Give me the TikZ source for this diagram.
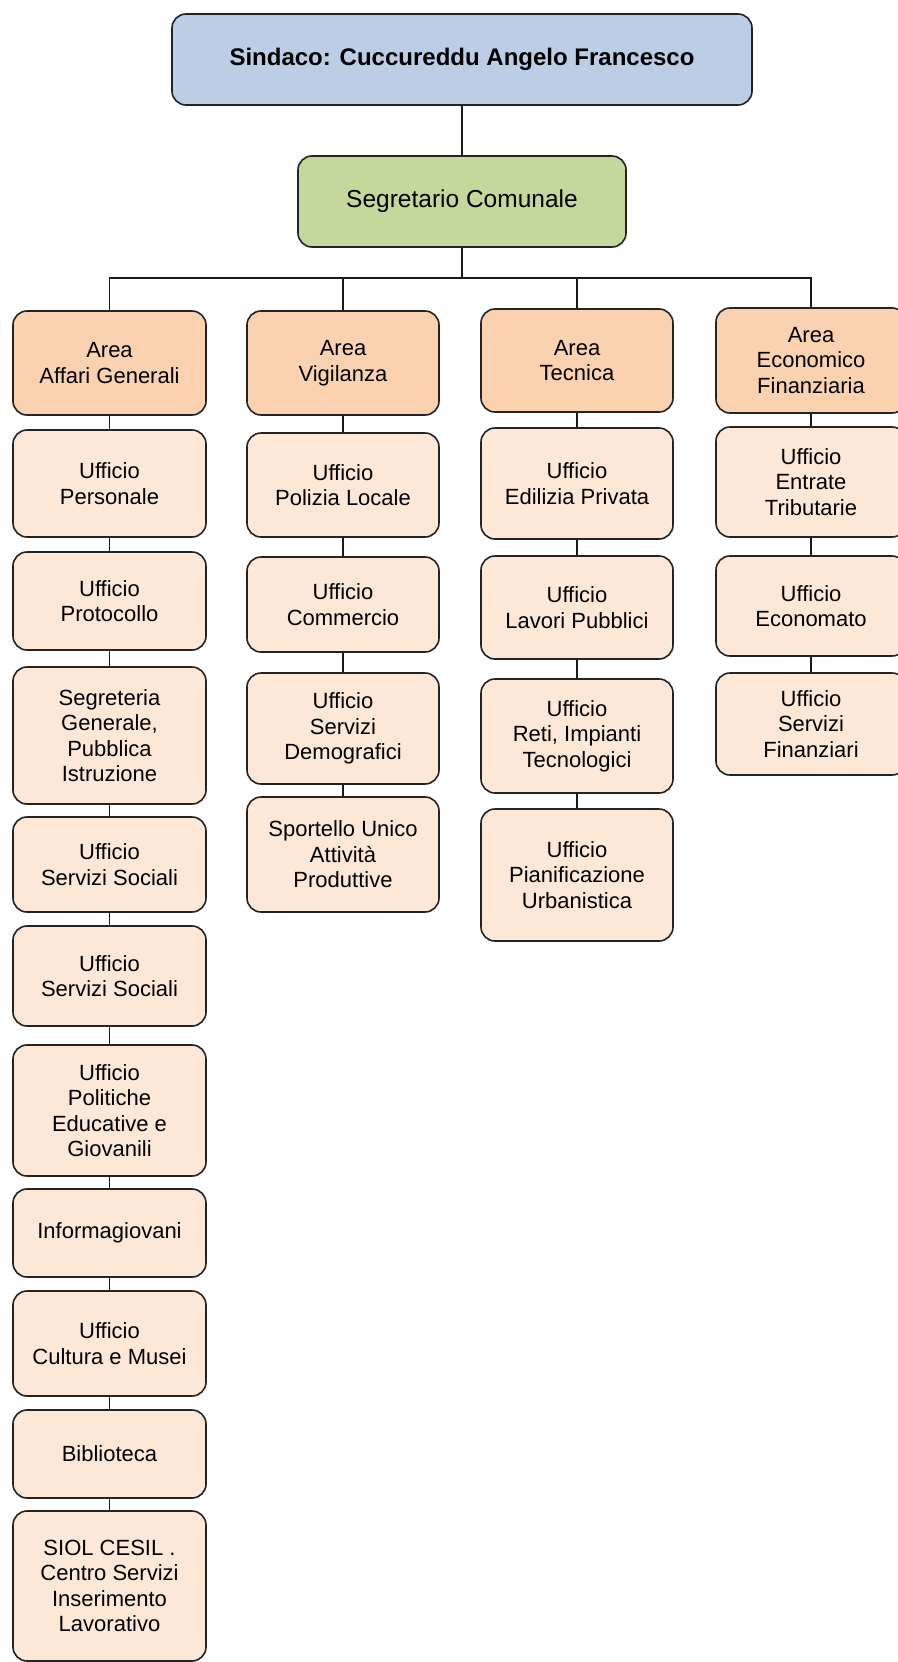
\documentclass[tikz,border=0pt]{standalone}
\usepackage{fontspec}
\setmainfont{Liberation Sans}
\definecolor{topblue}{RGB}{188,206,230}
\definecolor{seggreen}{RGB}{196,216,155}
\definecolor{areaor}{RGB}{251,210,176}
\definecolor{offpeach}{RGB}{253,232,215}
\definecolor{edge}{RGB}{35,35,35}
\begin{document}
\begin{tikzpicture}[x=1pt,y=-1pt,
  box/.style={draw=edge, line width=1.6pt, rounded corners=14pt, align=center,
    inner sep=0pt, font=\fontsize{22}{25.5}\selectfont},
  areabox/.style={box, fill=areaor},
  offbox/.style={box, fill=offpeach},
  link/.style={draw=black!90, line width=1.8pt}]
\useasboundingbox (0,0) rectangle (897,1662);
\fill[white] (0,0) rectangle (897,1662);
% top
\node[box, fill=topblue, minimum width=580pt, minimum height=91pt, font=\bfseries\fontsize{24}{28}\selectfont] (sind) at (462,59.5) {Sindaco: Cuccureddu Angelo Francesco};
\node[box, fill=seggreen, minimum width=328pt, minimum height=91pt, font=\fontsize{24.5}{28}\selectfont] (seg) at (462,201.5) {Segretario Comunale};
% column 1
\node[areabox, minimum width=193pt, minimum height=104pt] (a1) at (109.5,363) {Area\\Affari Generali};
\node[offbox, minimum width=193pt, minimum height=107pt] (c1a) at (109.5,483.5) {Ufficio\\Personale};
\node[offbox, minimum width=193pt, minimum height=98pt] (c1b) at (109.5,601) {Ufficio\\Protocollo};
\node[offbox, minimum width=193pt, minimum height=137pt] (c1c) at (109.5,735.5) {Segreteria\\Generale,\\Pubblica\\Istruzione};
\node[offbox, minimum width=193pt, minimum height=95pt] (c1d) at (109.5,864.5) {Ufficio\\Servizi Sociali};
\node[offbox, minimum width=193pt, minimum height=100pt] (c1e) at (109.5,976) {Ufficio\\Servizi Sociali};
\node[offbox, minimum width=193pt, minimum height=131pt] (c1f) at (109.5,1110.5) {Ufficio\\Politiche\\Educative e\\Giovanili};
\node[offbox, minimum width=193pt, minimum height=88pt] (c1g) at (109.5,1233) {Informagiovani};
\node[offbox, minimum width=193pt, minimum height=105pt] (c1h) at (109.5,1343.5) {Ufficio\\Cultura e Musei};
\node[offbox, minimum width=193pt, minimum height=88pt] (c1i) at (109.5,1454) {Biblioteca};
\node[offbox, minimum width=193pt, minimum height=150pt] (c1j) at (109.5,1586) {SIOL CESIL .\\Centro Servizi\\Inserimento\\Lavorativo};
% column 2
\node[areabox, minimum width=192pt, minimum height=104pt] (a2) at (343,363) {Area\\Vigilanza};
\node[offbox, minimum width=192pt, minimum height=104pt] (c2a) at (343,485) {Ufficio\\Polizia Locale};
\node[offbox, minimum width=192pt, minimum height=95pt] (c2b) at (343,604.5) {Ufficio\\Commercio};
\node[offbox, minimum width=192pt, minimum height=111pt] (c2c) at (343,728.5) {Ufficio\\Servizi\\Demografici};
\node[offbox, minimum width=192pt, minimum height=115pt] (c2d) at (343,854.5) {Sportello Unico\\Attività\\Produttive};
% column 3
\node[areabox, minimum width=192pt, minimum height=103pt] (a3) at (577,360.5) {Area\\Tecnica};
\node[offbox, minimum width=192pt, minimum height=111pt] (c3a) at (577,483.5) {Ufficio\\Edilizia Privata};
\node[offbox, minimum width=192pt, minimum height=103pt] (c3b) at (577,607.5) {Ufficio\\Lavori Pubblici};
\node[offbox, minimum width=192pt, minimum height=114pt] (c3c) at (577,736) {Ufficio\\Reti, Impianti\\Tecnologici};
\node[offbox, minimum width=192pt, minimum height=132pt] (c3d) at (577,875) {Ufficio\\Pianificazione\\Urbanistica};
% column 4
\node[areabox, minimum width=190pt, minimum height=105pt] (a4) at (811,360.5) {Area\\Economico\\Finanziaria};
\node[offbox, minimum width=190pt, minimum height=110pt] (c4a) at (811,482) {Ufficio\\Entrate\\Tributarie};
\node[offbox, minimum width=190pt, minimum height=100pt] (c4b) at (811,606) {Ufficio\\Economato};
\node[offbox, minimum width=190pt, minimum height=102pt] (c4c) at (811,724) {Ufficio\\Servizi\\Finanziari};
% connectors
\draw[link] (sind.south) -- (seg.north);
\coordinate (bus) at (462,278);
\draw[link] (seg.south) -- (bus);
\draw[link] (a1.north) |- (bus) -| (a4.north);
\draw[link] (a2.north) |- (bus);
\draw[link] (a3.north) |- (bus);
\foreach \u/\v in {a1/c1a,c1a/c1b,c1b/c1c,c1c/c1d,c1d/c1e,c1e/c1f,c1f/c1g,c1g/c1h,c1h/c1i,c1i/c1j,
  a2/c2a,c2a/c2b,c2b/c2c,c2c/c2d,
  a3/c3a,c3a/c3b,c3b/c3c,c3c/c3d,
  a4/c4a,c4a/c4b,c4b/c4c}
  \draw[link] (\u.south) -- (\v.north);
\end{tikzpicture}
\end{document}
